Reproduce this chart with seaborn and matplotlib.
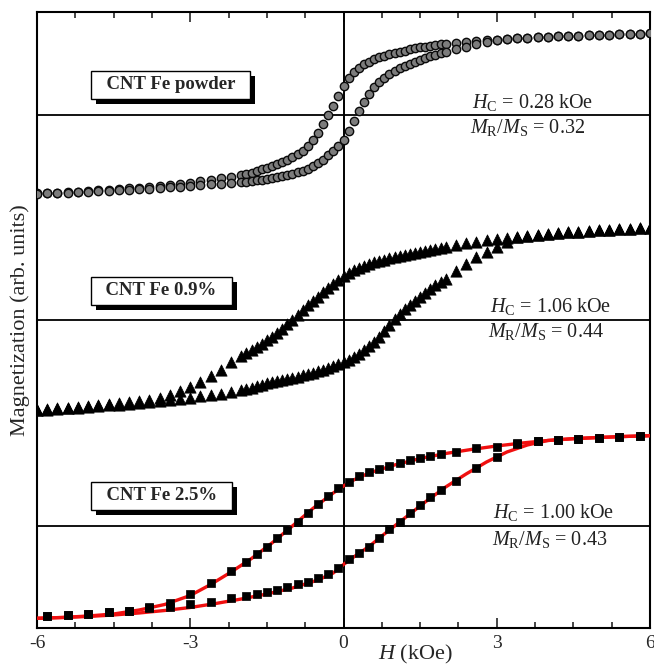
"""Hysteresis loops of CNT Fe samples (stacked, arbitrary units)."""

import matplotlib
matplotlib.use("Agg")
import matplotlib.pyplot as plt
import matplotlib.patheffects as pe
from matplotlib.ticker import MultipleLocator
import pandas as pd
import seaborn as sns

# field sweep (kOe) used for the powder and 0.9% loops
H_DENSE = [-6.0, -5.8, -5.6, -5.4, -5.2, -5.0, -4.8, -4.6, -4.4, -4.2,
           -4.0, -3.8, -3.6, -3.4, -3.2, -3.0, -2.8, -2.6, -2.4, -2.2,
           -2.0, -1.9, -1.8, -1.7, -1.6, -1.5, -1.4, -1.3, -1.2, -1.1,
           -1.0, -0.9, -0.8, -0.7, -0.6, -0.5, -0.4, -0.3, -0.2, -0.1,
           0.0, 0.1, 0.2, 0.3, 0.4, 0.5, 0.6, 0.7, 0.8, 0.9,
           1.0, 1.1, 1.2, 1.3, 1.4, 1.5, 1.6, 1.7, 1.8, 1.9,
           2.0, 2.2, 2.4, 2.6, 2.8, 3.0, 3.2, 3.4, 3.6, 3.8,
           4.0, 4.2, 4.4, 4.6, 4.8, 5.0, 5.2, 5.4, 5.6, 5.8, 6.0]

# CNT Fe powder, descending and ascending branches (arb. units)
POWDER_DOWN = [-78.4, -78.0, -77.6, -77.1, -76.6, -76.0, -75.4, -74.8, -74.1, -73.4,
               -72.6, -71.8, -70.9, -70.0, -69.0, -67.8, -66.5, -65.0, -63.4, -61.8,
               -60.0, -58.8, -57.6, -56.3, -54.5, -53.0, -51.3, -49.5, -47.3, -45.0,
               -42.5, -39.5, -36.0, -31.0, -25.0, -18.0, -9.5, 0.0, 9.0, 19.0,
               29.0, 37.0, 42.5, 47.0, 50.5, 53.0, 55.5, 57.5, 59.0, 60.5,
               62.0, 63.2, 64.4, 65.5, 66.5, 67.5, 68.4, 69.2, 69.9, 70.6,
               71.2, 72.3, 73.2, 74.0, 74.7, 75.4, 76.0, 76.6, 77.2, 77.7,
               78.2, 78.6, 79.0, 79.4, 79.8, 80.1, 80.4, 80.7, 81.0, 81.3, 81.6]
POWDER_UP = [-78.6, -78.3, -78.0, -77.7, -77.3, -76.9, -76.5, -76.0, -75.5, -75.0,
             -74.4, -73.8, -73.1, -72.4, -71.7, -71.0, -70.2, -69.5, -68.8, -68.0,
             -67.2, -66.6, -66.0, -65.4, -64.7, -64.0, -63.2, -62.3, -61.3, -60.2,
             -59.0, -57.5, -55.8, -53.8, -51.4, -48.5, -45.0, -40.5, -36.0, -31.0,
             -25.0, -16.0, -6.5, 3.5, 13.0, 21.0, 27.5, 32.7, 37.0, 41.0,
             44.0, 46.5, 49.0, 51.2, 53.2, 55.2, 57.2, 58.8, 60.3, 61.7,
             63.2, 66.0, 68.2, 70.5, 72.7, 74.5, 75.8, 76.6, 77.2, 77.7,
             78.2, 78.6, 79.0, 79.4, 79.8, 80.1, 80.4, 80.7, 81.0, 81.3, 81.6]

# CNT Fe 0.9%
FE09_DOWN = [-90.0, -89.3, -88.5, -87.7, -86.8, -86.0, -85.0, -84.2, -83.3, -82.2,
             -81.0, -79.8, -78.3, -75.2, -71.5, -66.8, -61.6, -55.6, -49.6, -42.5,
             -36.5, -33.3, -30.2, -27.1, -23.9, -20.5, -16.8, -12.9, -8.7, -4.2,
             0.3, 5.0, 9.8, 14.5, 19.0, 23.3, 27.5, 31.5, 35.5, 39.7,
             44.0, 47.0, 49.7, 52.0, 54.0, 55.8, 57.5, 59.0, 60.3, 61.6,
             62.8, 64.0, 65.2, 66.3, 67.4, 68.4, 69.4, 70.4, 71.4, 72.3,
             73.2, 75.0, 76.7, 78.3, 79.8, 81.1, 82.3, 83.4, 84.4, 85.3,
             86.1, 86.9, 87.6, 88.3, 88.9, 89.5, 90.1, 90.7, 91.2, 91.7, 92.2]
FE09_UP = [-90.5, -89.8, -89.1, -88.4, -87.7, -87.0, -86.3, -85.5, -84.7, -83.8,
           -82.8, -81.8, -80.8, -79.8, -78.7, -77.6, -76.4, -75.2, -74.0, -72.4,
           -70.0, -68.8, -67.6, -66.4, -65.0, -63.5, -62.3, -61.1, -60.0, -58.9,
           -57.8, -56.6, -55.4, -54.2, -52.9, -51.5, -50.0, -48.3, -46.5, -44.5,
           -42.3, -39.8, -37.0, -33.8, -30.3, -26.3, -21.8, -16.8, -11.3, -5.5,
           0.5, 5.5, 10.5, 15.0, 19.0, 23.0, 27.0, 31.0, 34.5, 38.0,
           41.0, 48.5, 56.0, 62.5, 67.5, 72.5, 78.0, 83.0, 84.4, 85.3,
           86.1, 86.9, 87.6, 88.3, 88.9, 89.5, 90.1, 90.7, 91.2, 91.7, 92.2]

# CNT Fe 2.5% (squares)
H_SQ = [-5.8, -5.4, -5.0, -4.6, -4.2, -3.8, -3.4, -3.0, -2.6, -2.2,
        -1.9, -1.7, -1.5, -1.3, -1.1, -0.9, -0.7, -0.5, -0.3, -0.1,
        0.1, 0.3, 0.5, 0.7, 0.9, 1.1, 1.3, 1.5, 1.7, 1.9,
        2.2, 2.6, 3.0, 3.4, 3.8, 4.2, 4.6, 5.0, 5.4, 5.8]
FE25_DOWN = [-89.7, -89.0, -88.0, -86.3, -84.7, -81.5, -76.7, -68.3, -57.3, -45.0,
             -35.7, -28.0, -20.7, -12.3, -4.0, 3.7, 13.3, 22.0, 30.0, 37.7,
             44.3, 50.0, 53.7, 56.7, 59.7, 62.7, 66.0, 68.3, 70.3, 72.0,
             74.3, 77.7, 79.3, 82.0, 84.5, 86.0, 87.3, 88.4, 89.4, 90.4]
FE25_UP = [-89.7, -89.0, -88.0, -86.5, -85.0, -82.5, -80.7, -78.5, -76.3, -72.5,
           -70.0, -68.2, -66.3, -64.0, -61.3, -58.5, -55.7, -52.5, -48.5, -42.3,
           -33.3, -27.3, -20.7, -12.3, -3.3, 4.3, 12.7, 21.0, 29.3, 36.0,
           45.0, 58.3, 69.3, 82.7, 84.5, 86.0, 87.3, 88.4, 89.4, 90.4]

# red fit through the 2.5% loop
FIT_H_DOWN = [-6.0, -5.5, -5.0, -4.5, -4.0, -3.5, -3.0, -2.6, -2.2, -1.8,
              -1.4, -1.0, -0.6, -0.2, 0.0, 0.2, 0.5, 1.0, 1.5, 2.0,
              2.5, 3.0, 3.5, 4.0, 4.5, 5.0, 5.5, 6.0]
FIT_DOWN = [-92.3, -91.5, -90.0, -88.0, -84.0, -78.5, -69.5, -58.5, -46.0, -32.5,
            -17.0, 0.0, 17.5, 33.0, 40.0, 46.0, 53.0, 61.0, 67.5, 72.5,
            76.5, 80.0, 83.0, 85.5, 87.3, 88.5, 89.5, 90.3]
FIT_H_UP = [-6.0, -5.5, -5.0, -4.5, -4.0, -3.5, -3.0, -2.5, -2.0, -1.5,
            -1.0, -0.5, -0.2, 0.0, 0.2, 0.5, 0.8, 1.0, 1.3, 1.6,
            2.0, 2.4, 2.8, 3.2, 3.6, 4.0, 4.5, 5.0, 5.5, 6.0]
FIT_UP = [-92.3, -91.5, -90.5, -89.0, -87.0, -84.5, -81.5, -77.5, -73.0, -68.0,
          -62.0, -54.0, -47.0, -38.5, -31.0, -20.5, -8.0, 0.0, 12.0, 24.0,
          39.0, 52.0, 64.0, 74.0, 81.0, 85.5, 87.3, 88.5, 89.5, 90.3]

SAMPLES = ["CNT Fe powder", "CNT Fe 0.9%", "CNT Fe 2.5%"]
HC_TEXT = ["0.28", "1.06", "1.00"]
MR_TEXT = ["0.32", "0.44", "0.43"]

# vertical stacking of the three loops
OFFSETS = [411, 206, 0]

sns.set_style("ticks")
plt.rcParams["font.family"] = ["Liberation Serif", "DejaVu Serif"]
plt.rcParams["mathtext.fontset"] = "custom"
plt.rcParams["mathtext.rm"] = "Liberation Serif"
plt.rcParams["mathtext.it"] = "Liberation Serif:italic"
plt.rcParams["axes.unicode_minus"] = False


def loop_frame(h, down, up, offset):
    df = pd.concat([
        pd.DataFrame({"H": h, "M": down, "branch": "down"}),
        pd.DataFrame({"H": h, "M": up, "branch": "up"}),
    ], ignore_index=True)
    df["y"] = df["M"] + offset
    return df


powder = loop_frame(H_DENSE, POWDER_DOWN, POWDER_UP, OFFSETS[0])
fe09 = loop_frame(H_DENSE, FE09_DOWN, FE09_UP, OFFSETS[1])
fe25 = loop_frame(H_SQ, FE25_DOWN, FE25_UP, OFFSETS[2])
fit = pd.concat([
    pd.DataFrame({"H": FIT_H_DOWN, "M": FIT_DOWN, "branch": "down"}),
    pd.DataFrame({"H": FIT_H_UP, "M": FIT_UP, "branch": "up"}),
], ignore_index=True)
fit["y"] = fit["M"] + OFFSETS[2]

fig = plt.figure(figsize=(6.54, 6.68), dpi=100)
ax = fig.add_axes([0.0566, 0.0599, 0.9373, 0.9222])

for off in OFFSETS:
    ax.axhline(off, color="black", lw=1.3, zorder=1)
ax.axvline(0, color="black", lw=1.4, zorder=1)

sns.lineplot(data=fit, x="H", y="y", units="branch", estimator=None, sort=False,
             color="#f01010", lw=2.4, ax=ax, zorder=3)
sns.scatterplot(data=powder, x="H", y="y", marker="o", s=36, color="#7c7c7c",
                edgecolor="#0a0a0a", linewidth=1.0, ax=ax, zorder=4)
sns.scatterplot(data=fe09, x="H", y="y", marker="^", s=66, color="black",
                edgecolor="black", linewidth=0.5, ax=ax, zorder=4)
sns.scatterplot(data=fe25, x="H", y="y", marker="s", s=32, color="black",
                edgecolor="black", linewidth=0.5, ax=ax, zorder=4)

ax.set_xlim(-6, 6)
ax.set_ylim(-102, 514)
ax.set_yticks([])
ax.xaxis.set_minor_locator(MultipleLocator(0.75))
ax.set_xticks([-6, -3, 0, 3, 6])
ax.set_xticklabels(["-6", "-3", "0", "3", "6"], fontsize=14)
ax.tick_params(which="both", direction="in", top=True, bottom=True,
               left=False, right=False, width=1.2, pad=5)
ax.tick_params(which="major", length=7)
ax.tick_params(which="minor", length=4)
for sp in ax.spines.values():
    sp.set_linewidth(1.5)
    sp.set_color("black")

# the x label sits right of the "0" tick label, as in the original
ax.set_xlabel("$H$ (kOe)", fontsize=16)
ax.xaxis.set_label_coords(0.618, -0.024)
ax.set_ylabel("Magnetization (arb. units)", fontsize=16, labelpad=5)

# sample name boxes with drop shadow
box_x = [-3.39, -3.57, -3.56]
box_y = [441, 235, 30]
for name, bx, by in zip(SAMPLES, box_x, box_y):
    t = ax.text(bx, by, "  " + name + "  ", ha="center", va="center",
                fontsize=13.5, fontweight="bold", zorder=6,
                bbox=dict(boxstyle="square,pad=0.3", fc="white", ec="black", lw=1.0))
    t.get_bbox_patch().set_path_effects([
        pe.SimplePatchShadow(offset=(3.5, -3.5), shadow_rgbFace="black", alpha=1.0),
        pe.Normal(),
    ])

# coercivity / remanence annotations
hc_pos = [(2.51, 418), (2.87, 214), (2.92, 8)]
mr_pos = [(2.48, 393), (2.83, 189), (2.91, -19)]
for hc, mr, (hx, hy), (mx, my) in zip(HC_TEXT, MR_TEXT, hc_pos, mr_pos):
    ax.text(hx, hy, r"$H_{\rm C}$ = " + hc + " kOe", fontsize=14.5,
            ha="left", va="baseline", color="#222222", zorder=6)
    ax.text(mx, my, r"$M_{\rm R}$/$M_{\rm S}$ = " + mr, fontsize=14.5,
            ha="left", va="baseline", color="#222222", zorder=6)

fig.savefig("out.png", dpi=100)
